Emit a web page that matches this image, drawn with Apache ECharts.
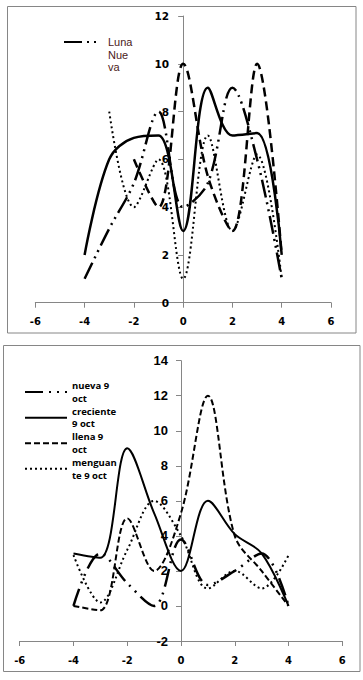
<!DOCTYPE html>
<html><head><meta charset="utf-8">
<script src="https://cdn.jsdelivr.net/npm/echarts@6/dist/echarts.min.js"></script>
<style>html,body{margin:0;padding:0;background:#fff}#c{width:363px;height:680px}</style>
</head><body><div id="c"></div>
<script>
// shared x positions
const xValues = [-4, -3, -2, -1, 0, 1, 2, 3, 4];

// top chart values (null = no point)
const topNueva     = [1, 3.1, 5, 8, 4, 5, 9, 6, 1];
const topCreciente = [2, 6, 6.9, 7, 3, 9, 7, 7.1, 2];
const topLlena     = [null, null, 6, 4, 10, 5.3, 3, 10, 2];
const topMenguante = [null, 8, 4, 6, 1, 7, 3, 6.2, 1];

// bottom chart values
const botNueva     = [0, 3, 1.3, 0, 3.8, 1.2, 2, 3, 0];
const botCreciente = [3, 2.75, 9, 5.3, 2, 6, 4.1, 3, 0];
const botLlena     = [0, -0.25, 5, 2, 5.3, 12, 4, 2, 0];
const botMenguante = [2.9, 0.2, 3.2, 6, 4, 1, 2, 1, 2.9];

// axis ticks [min, max, interval]
const xTicks    = [-6, 6, 2];
const topYTicks = [0, 12, 2];
const botYTicks = [-2, 14, 2];

// names
const topNames = ['Luna Nueva', 'Luna Creciente', 'Luna Llena', 'Luna Menguante'];
const botNames = ['nueva 9 oct', 'creciente 9 oct', 'llena 9 oct', 'menguante 9 oct'];
const legendLabels = {
  'Luna Nueva': '\n\nLuna\nNue\nva',
  'nueva 9 oct': 'nueva 9\noct',
  'creciente 9 oct': 'creciente\n9 oct',
  'llena 9 oct': 'llena 9\noct',
  'menguante 9 oct': 'menguan\nte 9 oct'
};

function pairs(vals) {
  const out = [];
  vals.forEach((v, i) => { if (v !== null) out.push([xValues[i], v]); });
  return out;
}

const AX = '#868686';
const styles = {
  nuevaTop: { color: '#000', width: 2.5, type: [18, 5, 2, 5, 2, 5] },
  nuevaBot: { color: '#000', width: 2.5, type: [18, 6, 2, 6, 2, 6] },
  solidTop: { color: '#000', width: 2.5, type: 'solid' },
  solidBot: { color: '#000', width: 2, type: 'solid' },
  dashTop:  { color: '#000', width: 2.5, type: [9, 5] },
  dashBot:  { color: '#000', width: 2, type: [6, 3] },
  dotTop:   { color: '#000', width: 2, type: [2, 3] },
  dotBot:   { color: '#000', width: 2, type: [2, 3] }
};

function line(name, vals, idx, ls) {
  return {
    type: 'line', name: name, data: pairs(vals),
    xAxisIndex: idx, yAxisIndex: idx,
    smooth: 0.35, symbol: 'none', lineStyle: ls,
    itemStyle: { color: '#000' },
    emphasis: { disabled: true }
  };
}

const grids = [
  { left: 35.3, top: 16, width: 295.7, height: 286.7 },
  { left: 19.7, top: 360.7, width: 322.6, height: 280.3 }
];

function xAxisCfg(idx, margin) {
  return {
    type: 'value', gridIndex: idx, min: xTicks[0], max: xTicks[1], interval: xTicks[2],
    axisLine: { show: true, onZero: false, lineStyle: { color: AX, width: 1 } },
    axisTick: { show: true, length: 5, lineStyle: { color: AX } },
    splitLine: { show: false },
    axisLabel: { margin: margin, color: '#000', fontFamily: 'DejaVu Sans', fontWeight: 'bold', fontSize: 10 }
  };
}
function yAxisCfg(idx, t, margin, font) {
  // y axis sits at x = 0 (middle of the symmetric x range)
  const off = -(grids[idx].width * (0 - xTicks[0]) / (xTicks[1] - xTicks[0]));
  return {
    type: 'value', gridIndex: idx, min: t[0], max: t[1], interval: t[2],
    position: 'left', offset: off,
    axisLine: { show: true, onZero: false, lineStyle: { color: AX, width: 1 } },
    axisTick: { show: true, length: 5, lineStyle: { color: AX } },
    splitLine: { show: false },
    axisLabel: Object.assign({ margin: margin, color: '#000' }, font)
  };
}

const chart = echarts.init(document.getElementById('c'), null, { renderer: 'svg' });
chart.setOption({
  animation: false,
  backgroundColor: '#fff',
  graphic: [
    { type: 'rect', shape: { x: 7.5, y: 6.5, width: 348.5, height: 326.5 }, style: { fill: 'none', stroke: AX, lineWidth: 1 }, silent: true },
    { type: 'rect', shape: { x: 3.5, y: 345.5, width: 356.5, height: 326 }, style: { fill: 'none', stroke: AX, lineWidth: 1 }, silent: true }
  ],
  grid: grids,
  xAxis: [xAxisCfg(0, 14), xAxisCfg(1, 14)],
  yAxis: [
    yAxisCfg(0, topYTicks, 14, { fontFamily: 'DejaVu Sans', fontWeight: 'bold', fontSize: 10.5 }),
    yAxisCfg(1, botYTicks, 13, { fontFamily: 'Liberation Sans', fontWeight: 'bold', fontSize: 13 })
  ],
  legend: [
    {
      data: ['Luna Nueva'], orient: 'vertical', left: 63, top: 10.75, padding: 0,
      itemWidth: 34, itemHeight: 10, selectedMode: false,
      itemStyle: { color: 'transparent', borderColor: 'transparent', borderWidth: 0 },
      formatter: n => legendLabels[n],
      textStyle: { fontFamily: 'Liberation Sans', fontSize: 11, lineHeight: 12.5, color: '#4a1a1a', padding: [0, 0, 0, 5] }
    },
    {
      data: botNames, orient: 'vertical', left: 24, top: 373, padding: 0,
      itemWidth: 42, itemHeight: 10, itemGap: -12.5, selectedMode: false,
      itemStyle: { color: 'transparent', borderColor: 'transparent', borderWidth: 0 },
      formatter: n => legendLabels[n],
      textStyle: { fontFamily: 'Open Sans', fontWeight: 'bold', fontSize: 9.5, lineHeight: 12.7, color: '#000', padding: [12.7, 0, 0, 0] }
    }
  ],
  series: [
    line(topNames[0], topNueva, 0, styles.nuevaTop),
    line(topNames[1], topCreciente, 0, styles.solidTop),
    line(topNames[2], topLlena, 0, styles.dashTop),
    line(topNames[3], topMenguante, 0, styles.dotTop),
    line(botNames[0], botNueva, 1, styles.nuevaBot),
    line(botNames[1], botCreciente, 1, styles.solidBot),
    line(botNames[2], botLlena, 1, styles.dashBot),
    line(botNames[3], botMenguante, 1, styles.dotBot)
  ]
});
</script></body></html>
